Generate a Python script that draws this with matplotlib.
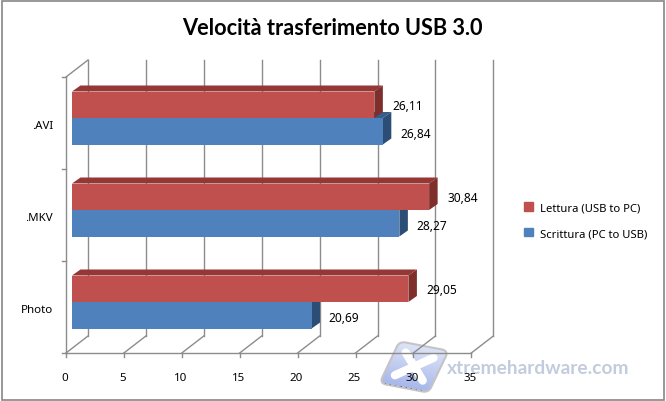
import matplotlib
matplotlib.use('Agg')
import matplotlib.pyplot as plt
import matplotlib.patches as patches
import matplotlib.transforms as transforms
import numpy as np

categories = ['Photo', '.MKV', '.AVI']
lettura = [29.05, 30.84, 26.11]
scrittura = [20.69, 28.27, 26.84]
xticks = [0, 5, 10, 15, 20, 25, 30, 35]
label_lettura = 'Lettura (USB to PC)'
label_scrittura = 'Scrittura (PC to USB)'
title = 'Velocità trasferimento USB 3.0'

W, H = 666, 402
sx = 11.58   # px per unit on x
sy = 92.0    # px per category
x0_px, y0_px = 66, 308.0   # where x=0 / first category sit

# 3d look, everything in px then converted
wall_dx, wall_dy = 22 / sx, 17 / sy
bar_dx, bar_dy = 8.5 / sx, 6 / sy
bar_left = 6 / sx
bar_h = 26.5 / sy
bar_lift = 5 / sy
y_low, y_high = -0.5, 2.5

red, red_top, red_side = '#C0504D', '#953735', '#7E2F2C'
blue, blue_top, blue_side = '#4F81BD', '#385D8A', '#2C4D75'
grid = '#8C8C8C'
font = 'Noto Sans'

fig = plt.figure(figsize=(W / 100, H / 100), dpi=100)
ax = fig.add_axes([0, 0, 1, 1])
ax.axis('off')

# outer frame
frame = patches.Rectangle((1.5 / W, 1.5 / H), (W - 3.5) / W, (H - 3) / H, transform=ax.transAxes,
                          fill=False, edgecolor='#868686', linewidth=1.2)
ax.add_patch(frame)

# watermark, sheared square in px
logo_tr = transforms.Affine2D(np.array([[47 / 44, 19 / 44, 414], [-9 / 44, 40 / 44, H - 368], [0, 0, 1]]))
logo = patches.FancyBboxPatch((-22, -22), 44, 44, boxstyle='round,pad=0,rounding_size=5',
                              facecolor='#BCC9EE', edgecolor='#C4C4C6', linewidth=3, transform=logo_tr, zorder=1)
ax.add_patch(logo)
shade = np.linspace(0, 1, 32).reshape(-1, 1) * np.array([[0xA8 - 0xDD, 0xB8 - 0xE3, 0xEA - 0xF6]]) + np.array([0xDD, 0xE3, 0xF6])
im = ax.imshow((shade / 255)[:, None, :], extent=(-22, 22, -22, 22), aspect='auto', transform=logo_tr, zorder=1.05)
im.set_clip_path(logo)
ax.plot([-13, 13], [-12, 13], color='white', lw=6, transform=logo_tr, zorder=1.1, solid_capstyle='round')
ax.plot([-13, 13], [13, -12], color='white', lw=6, transform=logo_tr, zorder=1.1, solid_capstyle='round')
ax.text(538 / W, 1 - 369 / H, 'xtremehardware.com', transform=ax.transAxes, ha='center', va='center',
        fontsize=13.8, family='Lato', fontweight='bold', color='#C3CCDD', zorder=1)

ax.set_xlim(-x0_px / sx, (W - x0_px) / sx)
ax.set_ylim((y0_px - H) / sy, y0_px / sy)

# walls and floor
for t in xticks:
    ax.plot([t, t + wall_dx], [y_low, y_low + wall_dy], color=grid, lw=1, zorder=2)
    ax.plot([t + wall_dx, t + wall_dx], [y_low + wall_dy, y_high + wall_dy], color=grid, lw=1, zorder=2)
    ax.plot([t, t], [y_low, y_low - 4 / sy], color=grid, lw=1, zorder=2)
ax.plot([0, xticks[-1]], [y_low, y_low], color=grid, lw=1, zorder=2)
ax.plot([0, 0], [y_low, y_high], color=grid, lw=1, zorder=2)
ax.plot([0, wall_dx], [y_high, y_high + wall_dy], color=grid, lw=1, zorder=2)
for b in np.arange(y_low, y_high + 0.5):
    ax.plot([-4 / sx, 0], [b, b], color=grid, lw=1, zorder=2)


def bar3d(y, val, face, top, side, z):
    end = bar_left + val
    ax.barh(y, val, height=bar_h, left=bar_left, color=face, linewidth=0, zorder=z + 0.2)
    y0, y1 = y - bar_h / 2, y + bar_h / 2
    ax.add_patch(patches.Polygon([(bar_left, y1), (bar_left + bar_dx, y1 + bar_dy),
                                  (end + bar_dx, y1 + bar_dy), (end, y1)],
                                 facecolor=top, linewidth=0, zorder=z))
    ax.add_patch(patches.Polygon([(end, y0), (end + bar_dx, y0 + bar_dy),
                                  (end + bar_dx, y1 + bar_dy), (end, y1)],
                                 facecolor=side, linewidth=0, zorder=z + 0.1))


ypos = np.arange(len(categories))
for i in ypos:
    mid = i + bar_lift
    bar3d(mid - bar_h / 2, scrittura[i], blue, blue_top, blue_side, 3 + i)
    bar3d(mid + bar_h / 2, lettura[i], red, red_top, red_side, 3.5 + i)
    ax.text(bar_left + lettura[i] + 2.9, mid + bar_h / 2 - 1 / sy, f'{lettura[i]:.2f}'.replace('.', ','),
            ha='center', va='center', fontsize=8.6, family=font, color='black', zorder=10)
    ax.text(bar_left + scrittura[i] + 2.8, mid - bar_h / 2 - 2 / sy, f'{scrittura[i]:.2f}'.replace('.', ','),
            ha='center', va='center', fontsize=8.6, family=font, color='black', zorder=10)
    ax.text(-13 / sx, i - 2.5 / sy, categories[i], ha='right', va='center', fontsize=8.3, family=font, color='black')

for t in xticks:
    ax.text(t - 1 / sx, y_low - 24.5 / sy, str(t), ha='center', va='center', fontsize=8.3, family=font,
            color='black', zorder=10)

ax.text(332 / W, 1 - 28.5 / H, title, transform=ax.transAxes, ha='center', va='center',
        fontsize=15.7, fontweight='bold', family='Lato', color='black')

handles = [patches.Patch(color=red, label=label_lettura), patches.Patch(color=blue, label=label_scrittura)]
ax.legend(handles=handles, loc='center left', bbox_to_anchor=(524 / W, 1 - 221.5 / H), frameon=False,
          handlelength=0.8, handleheight=0.8, handletextpad=0.6, labelspacing=1.3, borderpad=0,
          borderaxespad=0, prop={'family': font, 'size': 8.1})

fig.savefig('out.png', dpi=100)
